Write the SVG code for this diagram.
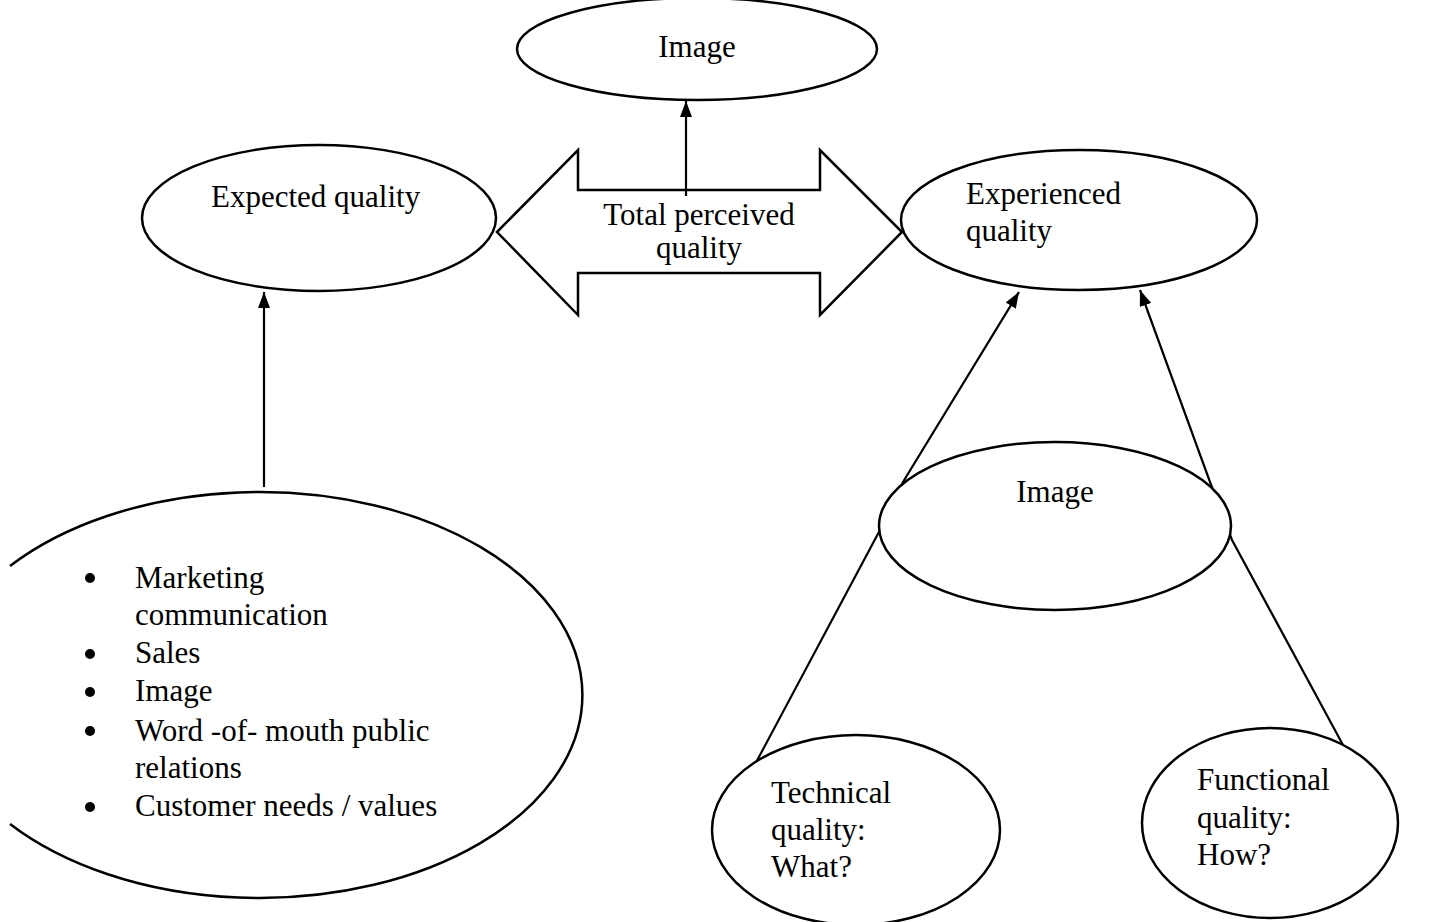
<svg xmlns="http://www.w3.org/2000/svg" width="1435" height="922" viewBox="0 0 1435 922">
<style>
.shape{fill:#fff;stroke:#000;stroke-width:2.5}
.open{fill:none;stroke:#000;stroke-width:2.5}
.line{fill:none;stroke:#000;stroke-width:2.2}
text{font-family:'Liberation Serif','Tinos','Times New Roman','DejaVu Serif',serif;font-size:31px;fill:#000}
.c{text-anchor:middle}
</style>
<defs>
<marker id="ah" viewBox="0 0 16 12" refX="16" refY="6" markerWidth="16" markerHeight="12" orient="auto" markerUnits="userSpaceOnUse">
<path d="M0,0 L16,6 L0,12 z" fill="#000"/>
</marker>
</defs>
<rect width="1435" height="922" fill="#fff"/>
<g id="connectors">
<line class="line" x1="264" y1="487" x2="264" y2="292" marker-end="url(#ah)"/>
<line class="line" x1="686" y1="196" x2="686" y2="101" marker-end="url(#ah)"/>
<polyline class="line" points="752,770 880,530 903,482 1019,292" marker-end="url(#ah)"/>
<polyline class="line" points="1343,745 1232,540 1210,482 1140,290" marker-end="url(#ah)"/>
</g>
<g id="total-perceived-quality">
<polygon class="shape" points="497,232 578,150 578,190 820,190 820,150 902,232 820,315 820,273 578,273 578,315"/>
<line class="line" x1="686" y1="190" x2="686" y2="196"/>
<text class="c" x="699" y="225">Total perceived</text>
<text class="c" x="699" y="258">quality</text>
</g>
<g id="image-top">
<ellipse class="shape" cx="697" cy="49" rx="180" ry="51"/>
<text class="c" x="697" y="57">Image</text>
</g>
<g id="expected-quality">
<ellipse class="shape" cx="319" cy="218" rx="177" ry="73"/>
<text x="211" y="207">Expected quality</text>
</g>
<g id="experienced-quality">
<ellipse class="shape" cx="1079" cy="220" rx="178" ry="70"/>
<text x="966" y="204">Experienced</text>
<text x="966" y="241">quality</text>
</g>
<g id="image-middle">
<ellipse class="shape" cx="1055" cy="526" rx="176" ry="84"/>
<text class="c" x="1055" y="502">Image</text>
</g>
<g id="technical-quality">
<ellipse class="shape" cx="856" cy="830" rx="144" ry="95"/>
<text x="771" y="803">Technical</text>
<text x="771" y="840">quality:</text>
<text x="771" y="877">What?</text>
</g>
<g id="functional-quality">
<ellipse class="shape" cx="1270" cy="823" rx="128" ry="95"/>
<text x="1197" y="790">Functional</text>
<text x="1197" y="828">quality:</text>
<text x="1197" y="865">How?</text>
</g>
<g id="sources">
<path class="open" d="M10,566 A323,203 0 1 1 10,824"/>
<circle cx="90" cy="578" r="5"/>
<circle cx="90" cy="654" r="5"/>
<circle cx="90" cy="692" r="5"/>
<circle cx="90" cy="731" r="5"/>
<circle cx="90" cy="807" r="5"/>
<text x="135" y="588">Marketing</text>
<text x="135" y="625">communication</text>
<text x="135" y="663">Sales</text>
<text x="135" y="701">Image</text>
<text x="135" y="741">Word -of- mouth public</text>
<text x="135" y="778">relations</text>
<text x="135" y="816">Customer needs / values</text>
</g>
</svg>
